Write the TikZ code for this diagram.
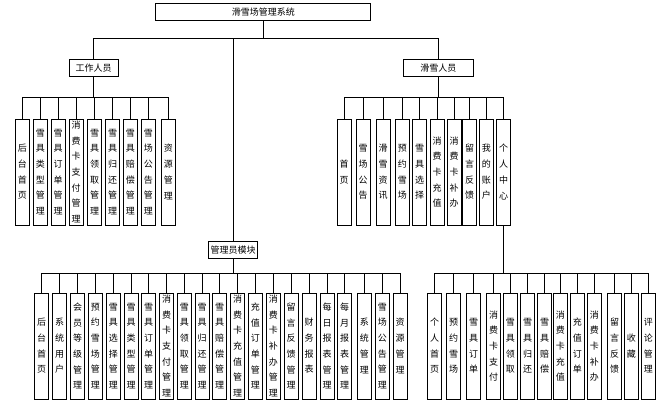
\documentclass[tikz,border=0pt]{standalone}
\usepackage{fontspec}
\newfontfamily\cjk{Noto Sans CJK SC}
\makeatletter
\def\vtext#1{\expandafter\vtext@a#1\relax}
\def\vtext@a#1{#1\vtext@b}
\def\vtext@b#1{\ifx\relax#1\else\\#1\expandafter\vtext@b\fi}
\makeatother
\tikzset{
  box/.style={draw=black, line width=0.9pt, inner sep=0pt, font=\cjk\fontsize{9}{15.7}\selectfont},
  hbox/.style={box, minimum height=17pt},
  vbox/.style={box, minimum width=14pt, minimum height=106pt, align=center},
  conn/.style={line width=0.8pt, draw=black}
}
\begin{document}
\begin{tikzpicture}[x=1pt,y=-1pt]
\useasboundingbox (0,0) rectangle (662,403);
\node[hbox, minimum width=215pt] (root) at (263.3,11.8) {滑雪场管理系统};
\node[hbox, minimum width=49pt] (W) at (93.7,67.8) {工作人员};
\node[hbox, minimum width=70pt] (S) at (438.3,67.8) {滑雪人员};
\node[hbox, minimum width=49.4pt, minimum height=16.6pt] (A) at (233,250) {管理员模块};
\draw[conn] (root.south) -- ++(0,18) -| (W.north);
\draw[conn] (root.south) -- ++(0,18) -| (A.north);
\draw[conn] (root.south) -- ++(0,18) -| (S.north);
\foreach \x/\txt [count=\i] in {22.3/后台首页, 40.3/雪具类型管理, 58/雪具订单管理, 76.2/消费卡支付管理, 94.7/雪具领取管理, 112.5/雪具归还管理, 130.3/雪具赔偿管理, 148.3/雪场公告管理, 168.3/资源管理}{
  \node[vbox] (L\i) at (\x,172) {\vtext{\txt}};
  \draw[conn] (W.south) -- ++(0,20.7) -| (L\i.north);
}
\foreach \x/\txt [count=\i] in {344/首页, 363/雪场公告, 383/滑雪资讯, 402.3/预约雪场, 419.7/雪具选择, 437/消费卡充值, 454/消费卡补办, 469.5/留言反馈, 486.3/我的账户, 503.7/个人中心}{
  \node[vbox] (R\i) at (\x,172) {\vtext{\txt}};
  \draw[conn] (S.south) -- ++(0,20.7) -| (R\i.north);
}
\foreach \x/\txt [count=\i] in {41.7/后台首页, 59.7/系统用户, 77.7/会员等级管理, 95.3/预约雪场管理, 113.3/雪具选择管理, 131/雪具类型管理, 148.7/雪具订单管理, 166.7/消费卡支付管理, 184.3/雪具领取管理, 202/雪具归还管理, 219.7/雪具赔偿管理, 237.7/消费卡充值管理, 255.3/充值订单管理, 273.3/消费卡补办管理, 291/留言反馈管理, 309/财务报表, 327/每日报表管理, 344.7/每月报表管理, 364.3/系统管理, 382.3/雪场公告管理, 400/资源管理}{
  \node[vbox] (M\i) at (\x,346) {\vtext{\txt}};
  \draw[conn] (A.south) -- ++(0,15) -| (M\i.north);
}
\foreach \x/\txt [count=\i] in {434.7/个人首页, 453.7/预约雪场, 473.7/雪具订单, 493.7/消费卡支付, 510.3/雪具领取, 527.7/雪具归还, 544.7/雪具赔偿, 560.3/消费卡充值, 577.3/充值订单, 594.3/消费卡补办, 614.7/留言反馈, 631.3/收藏, 648.3/评论管理}{
  \node[vbox] (B\i) at (\x,346) {\vtext{\txt}};
  \draw[conn] (R10.south) -- ++(0,48.3) -| (B\i.north);
}
\end{tikzpicture}
\end{document}
